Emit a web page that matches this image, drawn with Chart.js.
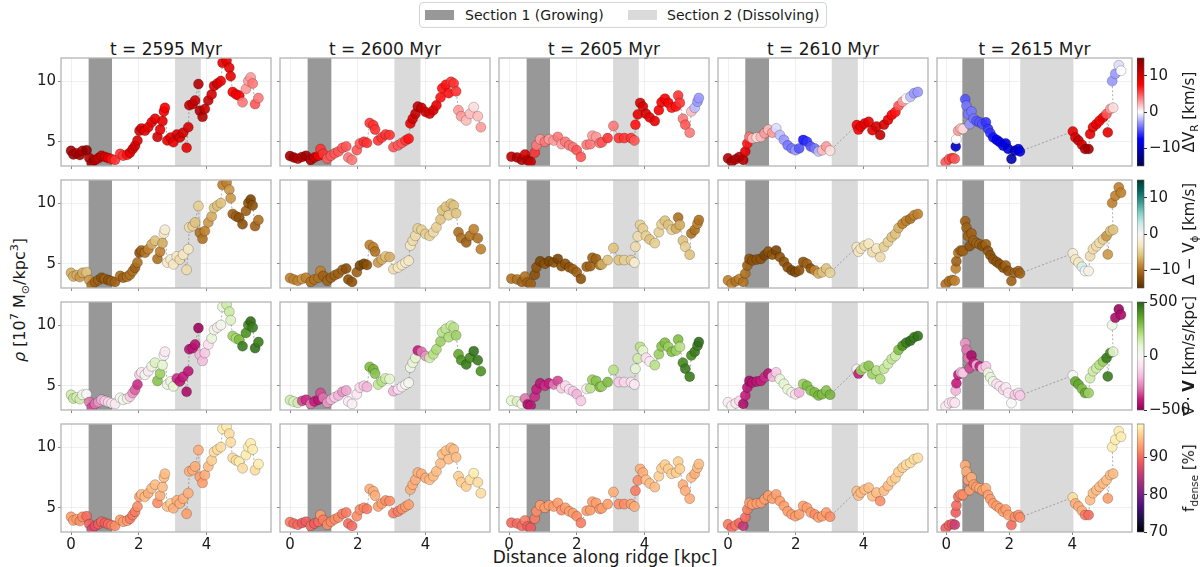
<!DOCTYPE html>
<html>
<head>
<meta charset="utf-8">
<title>Ridge profiles</title>
<script src="https://cdn.jsdelivr.net/npm/chart.js@4.4.1/dist/chart.umd.min.js"></script>
<style>
  body { margin: 0; background: #fff; }
  #fig { position: relative; width: 1200px; height: 567px; overflow: hidden; font-family: "DejaVu Sans", sans-serif; color: #1a1a1a; }
  #fig canvas { position: absolute; }
  .txt { position: absolute; white-space: nowrap; transform: translate(-50%, -50%); line-height: normal; }
  .rot { transform: translate(-50%, -50%) rotate(-90deg); }
  sub, sup { font-size: 70%; line-height: 0; }
  #legend { position: absolute; left: 419px; top: 2px; width: 406px; height: 24px; border: 1px solid #d4d4d4; border-radius: 4px; background: #fff; font-size: 14px; }
  #legend .patch { position: absolute; top: 7px; width: 29px; height: 10px; }
  #legend .item { position: absolute; top: 12px; transform: translateY(-50%); white-space: nowrap; }
</style>
</head>
<body>
<div id="fig">
  <div id="legend">
    <div class="patch" style="left:5px;background:#989898"></div>
    <div class="item" style="left:45px">Section 1 (Growing)</div>
    <div class="patch" style="left:208px;background:#dadada"></div>
    <div class="item" style="left:247px">Section 2 (Dissolving)</div>
  </div>
  <div class="txt" style="left:605px;top:557px;font-size:17px">Distance along ridge [kpc]</div>
  <div class="txt rot" style="left:19px;top:300px;font-size:16px"><i>ρ</i> [10<sup>7</sup> M<sub>⊙</sub>/kpc<sup>3</sup>]</div>
</div>
<script>
// snapshots along the ridge
const times = [2595, 2600, 2605, 2610, 2615];

// section bands (kpc)
const growStart = [0.52, 0.52, 0.52, 0.51, 0.51];
const growEnd = [1.21, 1.22, 1.21, 1.21, 1.20];
const dissolveStart = [3.07, 3.08, 3.07, 3.06, 2.35];
const dissolveEnd = [3.83, 3.85, 3.83, 3.83, 4.04];

// t = 2595 Myr
const x2595 = [0.00,0.07,0.17,0.26,0.34,0.46,0.54,0.61,0.71,0.81, 0.90,1.00,1.10,1.20,1.30,1.45,1.54,1.66,1.74,1.82,
  1.89,1.96,2.02,2.08,2.18,2.28,2.38,2.48,2.55,2.63, 2.70,2.74,2.77,2.84,2.94,3.02,3.12,3.21,3.31,3.41,
  3.46,3.49,3.59,3.66,3.76,3.80,3.88,3.95,4.05,4.15, 4.22,4.32,4.42,4.47,4.59,4.67,4.71,4.77,4.87,4.96,
  5.06,5.16,5.23,5.30,5.36,5.43,5.53];
const rho2595 = [4.25,3.95,4.05,3.9,4.25,4.3,3.65,3.2,3.5,3.65, 3.85,3.75,3.65,3.55,3.5,4.0,3.85,3.93,4.1,4.4,
  4.67,5.1,5.9,6.1,5.9,6.2,6.6,6.9,5.4,6.0, 6.7,7.5,7.8,5.1,5.35,4.95,5.6,5.35,5.75,4.5,
  6.2,8.0,8.1,8.4,9.75,7.55,7.05,7.7,8.4,8.9, 9.6,9.8,10.0,11.5,11.7,11.1,10.4,9.1,8.9,8.8,
  8.25,9.35,10.0,10.3,9.8,8.1,8.6];
const dvr2595 = [13,13,12,13,12,14,12,13,12,11, 11,10,9,7,6,6,6,7,9,10,
  10,10,10,10,9,9,9,9,10,9, 9,8,8,9,9,9,10,10,10,9,
  10,11,11,11,12,12,12,11,11,10, 10,10,9,9,9,9,9,8,8,8,
  4,3,3,3,4,5,4];
const dvphi2595 = [-7,-7,-7,-8,-7,-6,-8,-10,-11,-11, -12,-11,-12,-11,-11,-10,-11,-10,-10,-10,
  -11,-10,-12,-11,-10,-9,-7,-6,-10,-9, -7,-3,-2,-3,-2,-3,-3,-4,-3,-4,
  -3,-4,-5,-6,-5,-10,-10,-9,-8,-7, -6,-6,-6,-9,-9,-8,-8,-11,-11,-12,
  -12,-11,-12,-13,-12,-11,-10];
const divv2595 = [150,180,130,150,40,0,-300,-350,-300,-250, -200,-150,-120,-80,-60,20,10,60,-150,-250,
  -320,-380,-150,-80,30,-60,60,120,280,250, 100,-30,-60,80,60,100,-380,-420,-400,-450,
  -420,-430,-420,-430,-480,-200,-180,-150,-100,80, 50,-60,30,80,150,160,120,250,220,300,
  450,400,420,480,450,470,450];
const fdense2595 = [93,93,93,92,92,90,89,87,88,89, 90,89,90,91,92,93,93,93,91,91,
  91,92,93,95,95,94,95,95,92,94, 95,95,95,95,96,94,94,94,94,93,
  94,94,94,94,94,93,93,94,95,96, 97,97,97,98,98,97,97,97,97,98,
  97,98,98,98,98,97,98];

// t = 2600 Myr
const x2600 = [0.00,0.11,0.23,0.36,0.47,0.61,0.72,0.84,0.90,0.98, 1.10,1.21,1.32,1.43,1.55,1.66,1.72,1.83,1.97,2.06,
  2.18,2.27,2.35,2.46,2.51,2.60,2.71,2.82,2.94,3.05, 3.19,3.30,3.41,3.50,3.55,3.62,3.70,3.77,3.88,4.00,
  4.12,4.23,4.32,4.44,4.49,4.60,4.68,4.75,4.83,4.90, 4.97,5.05,5.20,5.31,5.42,5.54,5.63];
const rho2600 = [3.82,3.7,3.6,3.75,3.85,3.5,3.7,3.85,4.4,4.0, 3.6,3.85,4.05,4.2,4.5,4.6,3.7,3.5,4.3,4.85,
  5.0,4.9,6.55,6.35,6.0,5.1,5.35,5.6,5.55,4.55, 4.7,4.9,5.1,5.25,6.5,6.9,7.3,7.9,7.8,7.45,
  7.3,7.6,8.0,8.65,9.4,9.7,9.0,9.95,9.8,9.15, 7.6,7.1,6.75,7.3,7.85,7.1,6.2];
const dvr2600 = [13,13,12,12,13,12,11,8,6,6, 5,5,5,5,5,5,4,4,5,5,
  6,6,6,6,6,6,6,6,6,5, 5,5,6,7,9,10,11,11,11,10,
  10,10,9,7,7,7,7,6,6,6, 3,3,2,2,1,2,3];
const dvphi2600 = [-9,-9,-9,-8,-9,-10,-10,-10,-9,-11, -11,-11,-11,-11,-11,-12,-12,-12,-11,-13,
  -13,-12,-9,-9,-10,-8,-7,-6,-7,-4, -3,-3,-2,-3,-3,-4,-4,-5,-5,-5,
  -5,-4,-5,-6,-6,-6,-5,-6,-6,-6, -10,-10,-11,-10,-9,-10,-9];
const divv2600 = [150,120,150,-350,-380,-300,-400,-420,-350,-300, -250,-200,-150,-200,-250,-220,-60,-40,-80,-120,
  -150,-200,300,320,280,180,200,150,100,-200, -100,-50,0,20,50,80,100,-400,-300,-250,
  150,200,220,250,200,180,220,150,200,250, 350,400,450,420,470,450,400];
const fdense2600 = [91,90,90,89,89,90,89,90,93,91, 92,92,92,92,91,91,90,90,92,92,
  92,91,94,94,94,93,93,92,92,91, 91,92,93,93,94,94,94,94,94,94,
  95,95,95,95,95,95,95,95,95,95, 96,96,96,97,98,97,97];

// t = 2605 Myr
const x2605 = [0.07,0.24,0.38,0.47,0.55,0.64,0.76,0.81,0.92,1.06, 1.18,1.32,1.44,1.55,1.66,1.78,1.89,2.00,2.12,2.29,
  2.40,2.46,2.57,2.68,2.74,2.91,3.08,3.24,3.40,3.60, 3.70,3.73,3.80,3.87,3.95,4.04,4.15,4.30,4.42,4.50,
  4.60,4.70,4.80,4.93,4.99,5.04,5.13,5.20,5.33,5.38, 5.48,5.56,5.60];
const rho2605 = [3.77,3.71,3.5,3.95,3.46,3.35,4.1,4.7,5.2,5.0, 5.2,5.1,5.4,4.8,5.0,4.7,4.55,4.3,3.75,4.75,
  4.8,5.5,5.4,4.9,4.95,5.3,6.3,5.3,5.3,5.3, 5.1,6.4,7.25,8.2,7.9,7.3,7.0,6.7,7.6,8.25,
  8.55,8.2,7.8,7.9,8.8,8.2,6.9,6.4,5.75,7.5, 7.8,8.3,8.6];
const dvr2605 = [11,12,12,10,12,11,6,4,3,4, 3,3,4,3,4,4,4,5,5,4,
  4,3,3,4,5,6,4,6,6,6, 5,7,9,10,10,10,9,9,8,8,
  8,8,7,7,6,6,4,5,4,2, -2,-3,-3];
const dvphi2605 = [-10,-10,-11,-10,-11,-11,-12,-12,-13,-12, -13,-12,-13,-12,-12,-12,-11,-11,-12,-11,
  -11,-11,-11,-10,-7,-6,-6,-6,-5,-5, -2,-4,-4,-5,-5,-5,-6,-5,-5,-5,
  -6,-6,-5,-7,-10,-7,-6,-5,-6,-10, -10,-9,-10];
const divv2605 = [100,120,60,-300,-450,-420,-380,-400,-420,-380, -400,-300,-350,-150,-120,-100,-150,-200,-150,-50,
  200,250,280,300,250,300,200,-150,-120,-100, -60,100,150,200,100,-100,-50,200,250,280,
  300,250,300,250,300,200,420,450,450,420, 450,450,480];
const fdense2605 = [90,90,90,91,89,89,91,92,93,93, 93,93,93,92,93,93,93,92,91,93,
  93,93,93,93,93,93,94,92,92,93, 94,91,92,94,94,95,95,95,96,96,
  96,96,96,96,96,96,94,94,94,95, 94,95,95];

// t = 2610 Myr
const x2610 = [0.00,0.11,0.23,0.34,0.45,0.51,0.57,0.63,0.72,0.85, 0.97,1.08,1.19,1.31,1.42,1.53,1.65,1.76,1.88,1.99,
  2.10,2.22,2.33,2.44,2.56,2.67,2.78,2.90,3.01,3.80, 3.85,3.92,4.03,4.15,4.26,4.38,4.49,4.60,4.72,4.83,
  4.94,5.03,5.15,5.26,5.38,5.49,5.60];
const rho2610 = [3.63,3.35,3.55,3.75,3.5,4.2,4.85,5.4,5.27,5.35, 5.4,5.7,6.0,5.75,6.1,5.55,5.15,4.7,4.45,4.3,
  4.45,5.15,5.0,4.6,4.45,4.2,4.3,4.6,4.26,6.37, 6.0,6.25,6.5,6.65,5.95,6.25,5.55,6.4,6.8,7.2,
  7.45,7.95,8.3,8.55,8.7,9.0,9.1];
const dvr2610 = [12,13,12,12,12,9,7,4,2,1, 2,3,2,3,-1,-2,-3,-4,-4,-3,
  -5,-7,-6,-5,-4,-2,2,3,1,8, 8,9,9,9,9,10,11,10,9,8,
  7,5,3,0,-2,-3,-3];
const dvphi2610 = [-9,-9,-10,-9,-10,-10,-11,-12,-12,-12, -12,-13,-12,-12,-13,-12,-12,-12,-13,-13,
  -12,-12,-11,-12,-9,-7,-6,-6,-5,-3, -3,-3,-4,-3,-4,-3,-4,-5,-5,-6,
  -6,-7,-9,-9,-10,-9,-9];
const divv2610 = [-50,30,-80,-120,-450,-400,-420,-450,-430,-420, -400,-380,-420,-200,-150,80,100,80,50,-100,
  -200,250,300,280,300,320,300,280,320,-30, -400,250,200,280,250,200,220,180,150,180,
  150,300,400,450,480,450,470];
const fdense2610 = [91,90,91,90,85,90,91,93,93,93, 93,93,93,93,93,93,93,93,93,93,
  93,93,93,93,92,93,93,93,92,95, 95,95,95,95,95,95,92,95,95,96,
  96,96,96,97,97,97,97];

// t = 2615 Myr
const x2615 = [-0.02,0.09,0.19,0.27,0.30,0.32,0.38,0.46,0.53,0.60, 0.64,0.69,0.74,0.80,0.87,0.96,1.06,1.15,1.26,1.33,
  1.40,1.49,1.60,1.70,1.81,1.89,1.97,2.07,2.18,2.29, 2.34,4.02,4.10,4.20,4.31,4.41,4.52,4.57,4.66,4.77,
  4.87,4.98,5.09,5.13,5.21,5.30,5.27,5.37,5.48,5.55];
const rho2615 = [3.3,3.57,3.65,3.6,4.6,5.2,5.9,6.1,6.05,8.5, 7.97,7.28,6.45,7.5,6.9,6.7,6.6,6.45,6.6,6.05,
  5.7,5.35,5.15,4.95,4.67,4.86,4.4,3.57,4.26,4.4, 4.2,5.85,5.35,5.1,4.75,4.4,4.4,5.63,6.2,6.45,
  6.73,7.0,7.28,5.77,7.7,7.8,10.0,10.6,11.3,10.85];
const dvr2615 = [5,5,6,5,-10,0,3,2,1,-5, -4,-4,-3,-4,-4,-5,-5,-5,-6,-6,
  -6,-7,-8,-8,-8,-9,-9,-11,-10,-9, -9,9,10,11,10,12,13,9,9,9,
  8,9,5,9,3,1,-3,-3,-1,0];
const dvphi2615 = [-10,-10,-10,-9,-9,-11,-10,-11,-11,-11, -11,-11,-12,-11,-11,-11,-11,-12,-11,-12,
  -12,-12,-12,-12,-12,-11,-12,-11,-11,-11, -11,-2,-3,-3,2,0,-1,-4,-4,-4,
  -4,-5,-8,-8,-6,-6,-9,-9,-9,-9];
const divv2615 = [-60,-80,-100,-80,-200,-400,-400,-200,-150,-250, -300,-300,-350,-450,-400,-200,-400,-150,-150,50,
  80,40,-100,-80,-120,-60,-80,0,-150,-120, -150,0,350,350,300,350,250,150,150,150,
  200,250,450,450,420,100,50,-450,-480,-450];
const fdense2615 = [89,89,89,86,89,90,90,92,92,94, 94,93,93,94,93,93,94,93,94,93,
  93,93,93,93,93,93,93,90,92,92, 92,97,94,94,94,91,90,95,95,95,
  95,95,95,93,95,95,98,98,98,98];

const distance = [x2595, x2600, x2605, x2610, x2615];
const density = [rho2595, rho2600, rho2605, rho2610, rho2615];

// colour maps (matplotlib seismic, BrBG, PiYG, magma)
const seismicStops = ['#00004c', '#0000ff', '#ffffff', '#ff0000', '#800000'];
const brbgStops = ['#543005', '#8c510a', '#bf812d', '#dfc27d', '#f6e8c3', '#f5f5f5', '#c7eae5', '#80cdc1', '#35978f', '#01665e', '#003c30'];
const piygStops = ['#8e0152', '#c51b7d', '#de77ae', '#f1b6da', '#fde0ef', '#f7f7f7', '#e6f5d0', '#b8e186', '#7fbc41', '#4d9221', '#276419'];
const magmaStops = ['#000004', '#180f3d', '#440f76', '#721f81', '#9e2f7f', '#cd4071', '#f1605d', '#fd9668', '#feca8d', '#fcfdbf'];

const colourRows = [
  { values: [dvr2595, dvr2600, dvr2605, dvr2610, dvr2615], stops: seismicStops, vmin: -15, vmax: 15, ticks: [-10, 0, 10], label: 'ΔV<sub>R</sub> [km/s]' },
  { values: [dvphi2595, dvphi2600, dvphi2605, dvphi2610, dvphi2615], stops: brbgStops, vmin: -15, vmax: 15, ticks: [-10, 0, 10], label: 'Δ − V<sub>ϕ</sub> [km/s]' },
  { values: [divv2595, divv2600, divv2605, divv2610, divv2615], stops: piygStops, vmin: -500, vmax: 500, ticks: [-500, 0, 500], label: '∇ · <b>V</b> [km/s/kpc]' },
  { values: [fdense2595, fdense2600, fdense2605, fdense2610, fdense2615], stops: magmaStops, vmin: 70, vmax: 99, ticks: [70, 80, 90], label: 'f<sub>dense</sub> [%]' }
];

// figure geometry
const panelLeft = [61, 280, 499, 718, 937];
const panelWidth = [210, 210, 210, 210, 195];
const rowTop = [58, 180, 302, 424];
const panelHeight = 108;
const padL = 40, padT = 8, padR = 8, padB = 24;

Chart.defaults.font.family = '"DejaVu Sans", sans-serif';
Chart.defaults.color = '#1a1a1a';

function hexToRgb(h) {
  return [parseInt(h.slice(1, 3), 16), parseInt(h.slice(3, 5), 16), parseInt(h.slice(5, 7), 16)];
}

function cmapColor(stops, t, alpha) {
  t = Math.max(0, Math.min(1, t));
  const n = stops.length - 1;
  const i = Math.min(Math.floor(t * n), n - 1);
  const f = t * n - i;
  const a = hexToRgb(stops[i]), b = hexToRgb(stops[i + 1]);
  const c = a.map((v, k) => Math.round(v + (b[k] - v) * f));
  return `rgba(${c[0]},${c[1]},${c[2]},${alpha})`;
}

function addCanvas(left, top, w, h) {
  const cv = document.createElement('canvas');
  cv.width = w;
  cv.height = h;
  cv.style.cssText = `left:${left}px;top:${top}px;width:${w}px;height:${h}px`;
  document.getElementById('fig').appendChild(cv);
  return cv;
}

function addText(html, left, top, size, cls) {
  const d = document.createElement('div');
  d.className = 'txt' + (cls ? ' ' + cls : '');
  d.style.cssText = `left:${left}px;top:${top}px;font-size:${size}px`;
  d.innerHTML = html;
  document.getElementById('fig').appendChild(d);
}

function fixSize(prop, size) {
  return (scale) => {
    scale[prop] = size;
    scale.paddingLeft = 0; scale.paddingRight = 0; scale.paddingTop = 0; scale.paddingBottom = 0;
  };
}

function setTicks(values) {
  return (scale) => { scale.ticks = values.map(v => ({ value: v })); };
}

function minusLabel(v) {
  return v < 0 ? '\u2212' + Math.abs(v) : String(v);
}

const framePlugin = {
  id: 'frame',
  afterDraw(chart) {
    const { ctx, chartArea: a } = chart;
    ctx.save();
    ctx.strokeStyle = '#b4b4b4';
    ctx.lineWidth = 1.3;
    ctx.strokeRect(a.left, a.top, a.right - a.left, a.bottom - a.top);
    ctx.restore();
  }
};

function bandsPlugin(col) {
  return {
    id: 'bands',
    beforeDatasetsDraw(chart) {
      const { ctx, chartArea: a, scales: { x } } = chart;
      ctx.save();
      ctx.fillStyle = '#989898';
      const g0 = x.getPixelForValue(growStart[col]), g1 = x.getPixelForValue(growEnd[col]);
      ctx.fillRect(g0, a.top, g1 - g0, a.bottom - a.top);
      ctx.fillStyle = '#dadada';
      const d0 = x.getPixelForValue(dissolveStart[col]), d1 = x.getPixelForValue(dissolveEnd[col]);
      ctx.fillRect(d0, a.top, d1 - d0, a.bottom - a.top);
      ctx.restore();
    }
  };
}

function buildPanel(col, row) {
  const cfg = colourRows[row];
  const w = panelWidth[col] + padL + padR, h = panelHeight + padT + padB;
  const cv = addCanvas(panelLeft[col] - padL, rowTop[row] - padT, w, h);
  const pts = distance[col].map((d, i) => ({ x: d, y: density[col][i] }));
  const fills = cfg.values[col].map(v => cmapColor(cfg.stops, (v - cfg.vmin) / (cfg.vmax - cfg.vmin), 0.9));
  const tickFont = { size: 15 };

  new Chart(cv, {
    type: 'scatter',
    data: {
      datasets: [
        { data: pts, showLine: true, pointRadius: 0, borderColor: 'rgba(110,110,110,0.55)', borderWidth: 1, borderDash: [2, 2], clip: 0, order: 2 },
        { data: pts, pointRadius: 5, pointBackgroundColor: fills, pointBorderColor: 'rgba(0,0,0,0.35)', pointBorderWidth: 0.6, clip: 0, order: 1 }
      ]
    },
    options: {
      responsive: false,
      animation: false,
      devicePixelRatio: 1,
      events: [],
      layout: { padding: { top: padT, right: padR, left: 0, bottom: 0 } },
      plugins: { legend: { display: false }, tooltip: { enabled: false } },
      scales: {
        x: {
          type: 'linear', min: -0.295, max: 5.9,
          afterBuildTicks: setTicks([0, 2, 4]),
          afterFit: fixSize('height', padB),
          grid: { color: 'rgba(0,0,0,0.06)', tickColor: '#8a8a8a', tickLength: 3 },
          border: { display: false },
          ticks: { display: row === 3, font: tickFont, color: '#1a1a1a', padding: 1, maxRotation: 0 }
        },
        y: {
          type: 'linear', min: 3.0, max: 11.9,
          afterBuildTicks: setTicks([5, 10]),
          afterFit: fixSize('width', padL),
          grid: { color: 'rgba(0,0,0,0.06)', tickColor: '#8a8a8a', tickLength: 3 },
          border: { display: false },
          ticks: { display: col === 0, font: tickFont, color: '#1a1a1a', padding: 2 }
        }
      }
    },
    plugins: [bandsPlugin(col), framePlugin]
  });
}

function buildColourbar(row) {
  const cfg = colourRows[row];
  const cv = addCanvas(1137, rowTop[row] - 10, 63, panelHeight + 20);
  const gradient = {
    id: 'gradient',
    beforeDatasetsDraw(chart) {
      const { ctx, chartArea: a } = chart;
      const g = ctx.createLinearGradient(0, a.bottom, 0, a.top);
      for (let k = 0; k <= 40; k++) g.addColorStop(k / 40, cmapColor(cfg.stops, k / 40, 1));
      ctx.save();
      ctx.fillStyle = g;
      ctx.fillRect(a.left, a.top, a.right - a.left, a.bottom - a.top);
      ctx.strokeStyle = '#555';
      ctx.lineWidth = 0.6;
      ctx.strokeRect(a.left, a.top, a.right - a.left, a.bottom - a.top);
      ctx.restore();
    }
  };
  new Chart(cv, {
    type: 'scatter',
    data: { datasets: [] },
    options: {
      responsive: false,
      animation: false,
      devicePixelRatio: 1,
      events: [],
      layout: { padding: { top: 10, bottom: 10, left: 0, right: 0 } },
      plugins: { legend: { display: false }, tooltip: { enabled: false } },
      scales: {
        x: { display: false, min: 0, max: 1 },
        y: {
          position: 'right', min: cfg.vmin, max: cfg.vmax,
          afterBuildTicks: setTicks(cfg.ticks),
          afterFit: fixSize('width', 56),
          grid: { drawOnChartArea: false, tickColor: '#333', tickLength: 3 },
          border: { display: false },
          ticks: { font: { size: 15 }, color: '#1a1a1a', padding: 2, callback: minusLabel }
        }
      }
    },
    plugins: [gradient]
  });
  addText(cfg.label, 1189, rowTop[row] + panelHeight / 2, 15, 'rot');
}

times.forEach((t, col) => {
  addText(`t = ${t} Myr`, panelLeft[col] + panelWidth[col] / 2, 48.5, 17);
  for (let row = 0; row < 4; row++) buildPanel(col, row);
});
for (let row = 0; row < 4; row++) buildColourbar(row);
</script>
</body>
</html>
